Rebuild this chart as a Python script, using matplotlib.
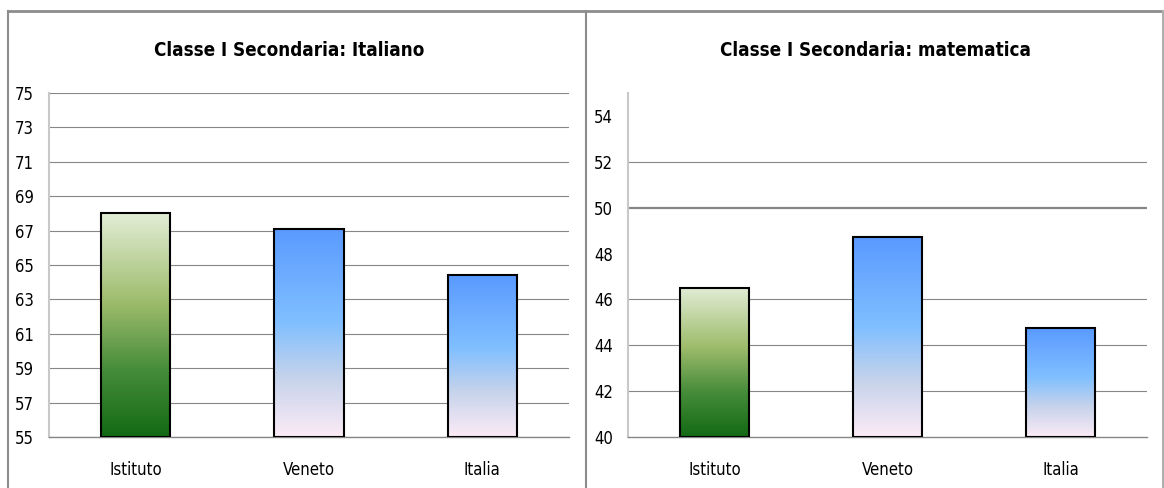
import numpy as np
import matplotlib.pyplot as plt
from matplotlib.colors import LinearSegmentedColormap
from matplotlib.lines import Line2D

# dati
categorie = ["Istituto", "Veneto", "Italia"]
val_italiano = [68.0, 67.1, 64.4]
val_matematica = [46.5, 48.7, 44.75]
ticks_italiano = list(range(55, 76, 2))
ticks_matematica = list(range(40, 55, 2))
griglia_mat = [42, 44, 46, 52]
griglia_mat_spessa = [50]

plt.rcParams["font.family"] = ["DejaVu Sans"]
plt.rcParams["font.stretch"] = "condensed"

verde = LinearSegmentedColormap.from_list(
    "verde", [(0.0, "#136a14"), (0.3, "#468c3a"), (0.6, "#9dbc6b"), (1.0, "#e2edd6")])
blu = LinearSegmentedColormap.from_list(
    "blu", [(0.0, "#fcebf6"), (0.28, "#c6d3eb"), (0.55, "#80bfff"), (1.0, "#5a9aff")])
mappe = [verde, blu, blu]

fig = plt.figure(figsize=(11.64, 4.88), dpi=100)
W, H = 1164, 488


def pannello(rect, valori, ylim, ticks, titolo, tx):
    ax = fig.add_axes(rect)
    x = np.arange(len(categorie))
    w = 0.4
    grad = np.linspace(0, 1, 256).reshape(-1, 1)
    for i, v in enumerate(valori):
        ax.imshow(grad, cmap=mappe[i], origin="lower", aspect="auto",
                  extent=[x[i] - w / 2, x[i] + w / 2, ylim[0], v], zorder=3)
    ax.bar(x, np.array(valori) - ylim[0], bottom=ylim[0], width=w, fill=False,
           edgecolor="black", linewidth=1.5, zorder=4)
    ax.set_xlim(-0.5, len(categorie) - 0.5)
    ax.set_ylim(*ylim)
    ax.set_yticks(ticks)
    ax.set_xticks(x)
    ax.set_xticklabels(categorie)
    ax.tick_params(axis="y", length=0, pad=11, labelsize=12)
    ax.tick_params(axis="x", length=0, pad=17, labelsize=12)
    for s in ["top", "right"]:
        ax.spines[s].set_visible(False)
    ax.spines["left"].set_color("#c8c8c8")
    ax.spines["left"].set_linewidth(1.5)
    ax.spines["bottom"].set_color("#868686")
    ax.spines["bottom"].set_linewidth(1.0)
    fig.text(tx / W, 1 - 50 / H, titolo, ha="center", va="center",
             fontsize=13.5, fontweight="bold")
    return ax


ax1 = pannello([49 / W, 1 - 437 / H, 520 / W, 344 / H], val_italiano, (55, 75),
               ticks_italiano, "Classe I Secondaria: Italiano", 289)
ax1.yaxis.grid(True, color="#868686", linewidth=0.8, zorder=1)
ax1.set_axisbelow(True)

ax2 = pannello([628 / W, 1 - 437 / H, 519 / W, 344 / H], val_matematica, (40, 55),
               ticks_matematica, "Classe I Secondaria: matematica", 875)
for g in griglia_mat:
    ax2.axhline(g, color="#868686", linewidth=0.8, zorder=1)
for g in griglia_mat_spessa:
    ax2.axhline(g, color="#868686", linewidth=1.6, zorder=1)

# cornice
col = "#8c8c8c"
fig.add_artist(Line2D([8 / W, 1163 / W], [1 - 11 / H, 1 - 11 / H], color=col, lw=2))
fig.add_artist(Line2D([8 / W, 8 / W], [0, 1 - 11 / H], color=col, lw=1.5))
fig.add_artist(Line2D([586 / W, 586 / W], [0, 1 - 11 / H], color=col, lw=1.5))
fig.add_artist(Line2D([1163 / W, 1163 / W], [0, 1 - 11 / H], color="#b0b0b0", lw=1.5))

fig.savefig("out.png", dpi=100)
